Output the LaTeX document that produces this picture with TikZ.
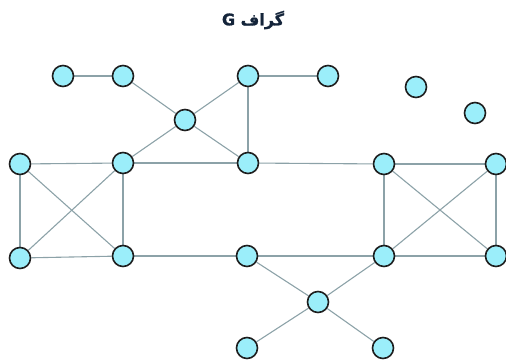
\documentclass[tikz,border=0pt]{standalone}
\usepackage{fontspec}
\usetikzlibrary{backgrounds}
\TeXXeTstate=1
\newfontfamily\arabicfont[Script=Arabic,BoldFeatures={FakeBold=1.2}]{DejaVu Sans}
\definecolor{nodefill}{HTML}{9BEEFA}
\definecolor{nodeline}{HTML}{1E1E1E}
\definecolor{edgecol}{HTML}{8CA2A8}
\definecolor{titlecol}{HTML}{14243A}
\begin{document}
\begin{tikzpicture}[x=1pt,y=-1pt,
  vtx/.style={circle,draw=nodeline,fill=nodefill,line width=1.6pt,minimum size=21pt,inner sep=0pt},
  edge/.style={draw=edgecol,line width=1.1pt}]
\useasboundingbox (0,0) rectangle (506,363);
\node[font=\arabicfont\bfseries\fontsize{16}{19}\selectfont,text=titlecol] (title) at (253,20) {\beginR گراف G\endR};
\node[vtx] (A) at (63,76) {};
\node[vtx] (B) at (123,76) {};
\node[vtx] (C) at (248,76) {};
\node[vtx] (D) at (328,76) {};
\node[vtx] (E) at (185,120) {};
\node[vtx] (F) at (416,87) {};
\node[vtx] (G) at (475,113) {};
\node[vtx] (H) at (20,164) {};
\node[vtx] (I) at (123,163) {};
\node[vtx] (J) at (248,163) {};
\node[vtx] (K) at (384,164) {};
\node[vtx] (L) at (496,164) {};
\node[vtx] (M) at (20,258) {};
\node[vtx] (N) at (123,256) {};
\node[vtx] (O) at (247,256) {};
\node[vtx] (P) at (384,256) {};
\node[vtx] (Q) at (496,256) {};
\node[vtx] (R) at (318,302) {};
\node[vtx] (S) at (247,348) {};
\node[vtx] (T) at (383,348) {};
\begin{scope}[on background layer]
\draw[edge] (A) -- (B);
\draw[edge] (C) -- (D);
\draw[edge] (B) -- (E);
\draw[edge] (E) -- (C);
\draw[edge] (C) -- (J);
\draw[edge] (E) -- (I);
\draw[edge] (E) -- (J);
\draw[edge] (H) -- (I);
\draw[edge] (I) -- (J);
\draw[edge] (J) -- (K);
\draw[edge] (K) -- (L);
\draw[edge] (M) -- (N);
\draw[edge] (N) -- (O);
\draw[edge] (O) -- (P);
\draw[edge] (P) -- (Q);
\draw[edge] (H) -- (M);
\draw[edge] (H) -- (N);
\draw[edge] (I) -- (M);
\draw[edge] (I) -- (N);
\draw[edge] (K) -- (P);
\draw[edge] (K) -- (Q);
\draw[edge] (L) -- (P);
\draw[edge] (L) -- (Q);
\draw[edge] (O) -- (R);
\draw[edge] (P) -- (R);
\draw[edge] (R) -- (S);
\draw[edge] (R) -- (T);
\end{scope}
\end{tikzpicture}
\end{document}
